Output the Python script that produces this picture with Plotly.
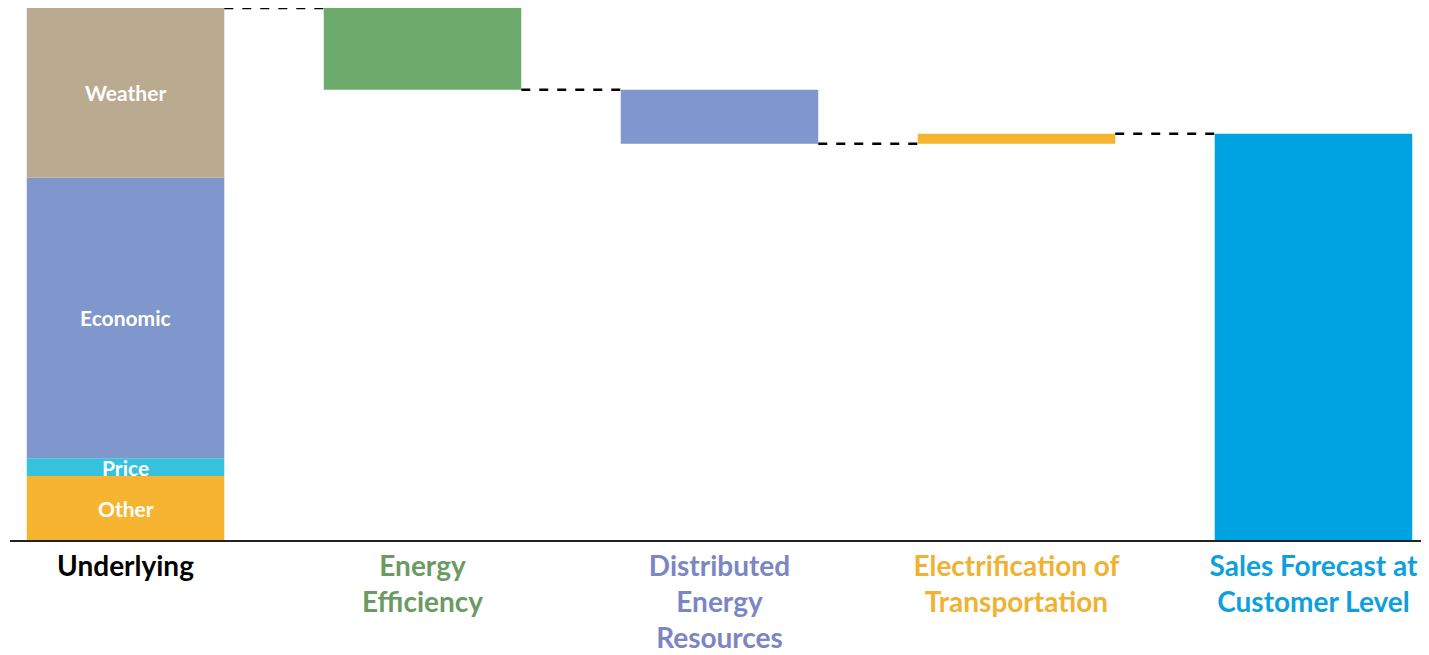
import plotly.graph_objects as go

# ---- data ----
categories = ["Underlying", "Energy Efficiency", "Distributed Energy Resources",
              "Electrification of Transportation", "Sales Forecast at Customer Level"]
tick_labels = ["Underlying", "Energy<br>Efficiency", "Distributed<br>Energy<br>Resources",
               "Electrification of<br>Transportation", "Sales Forecast at<br>Customer Level"]
label_colors = ["#000000", "#6c9a63", "#7b86c4", "#f1b132", "#0ea0dc"]

underlying_parts = ["Other", "Price", "Economic", "Weather"]
underlying_values = [64, 18, 281, 170]
underlying_colors = ["#f6b431", "#35c2dc", "#7f97cd", "#b9aa90"]

driver_values = [-82, -54, 10]
driver_colors = ["#6dab6c", "#7f96ce", "#f5b42f"]
final_color = "#00a3e1"

bar_w = 0.665

fig = go.Figure()

# stacked underlying bar
base = 0
annotations = []
for name, v, c in zip(underlying_parts, underlying_values, underlying_colors):
    fig.add_trace(go.Bar(x=[0], y=[v], base=[base], width=[bar_w], marker_color=c,
                         marker_line_width=0, name=name, showlegend=False, hoverinfo="name+y"))
    annotations.append(dict(x=0, y=base + v / 2, xref="x", yref="y", text="<b>%s</b>" % name,
                            showarrow=False, font=dict(family="Lato", size=21, color="white")))
    base += v

total_underlying = base
level = base
levels = [level]
for i, (v, c) in enumerate(zip(driver_values, driver_colors), start=1):
    lo = min(level, level + v)
    fig.add_trace(go.Bar(x=[i], y=[abs(v)], base=[lo], width=[bar_w], marker_color=c,
                         marker_line_width=0, showlegend=False, name=categories[i]))
    level += v
    levels.append(level)

fig.add_trace(go.Bar(x=[4], y=[level], base=[0], width=[bar_w], marker_color=final_color,
                     marker_line_width=0, showlegend=False, name=categories[4]))

shapes = []
for i, lv in enumerate(levels):
    shapes.append(dict(type="line", xref="x", yref="y", x0=i + bar_w / 2, x1=i + 1 - bar_w / 2,
                       y0=lv, y1=lv, line=dict(color="black", width=2.5, dash="dash")))

ticktext = ["<b><span style='color:%s'>%s</span></b>" % (c, t) for t, c in zip(tick_labels, label_colors)]

fig.update_layout(
    width=1421, height=647,
    margin=dict(l=2, r=0, t=0, b=115),
    paper_bgcolor="white", plot_bgcolor="white",
    barmode="overlay",
    shapes=shapes, annotations=annotations,
    xaxis=dict(range=[-0.389, 4.389], tickmode="array", tickvals=list(range(5)), ticktext=ticktext,
               showgrid=False, zeroline=False, showline=True, linecolor="#222", linewidth=2,
               ticks="", automargin=False,
               tickfont=dict(family="Lato", size=28)),
    yaxis=dict(range=[0, total_underlying], visible=False, showgrid=False, zeroline=False),
    showlegend=False,
)

fig.write_html("out.html")
